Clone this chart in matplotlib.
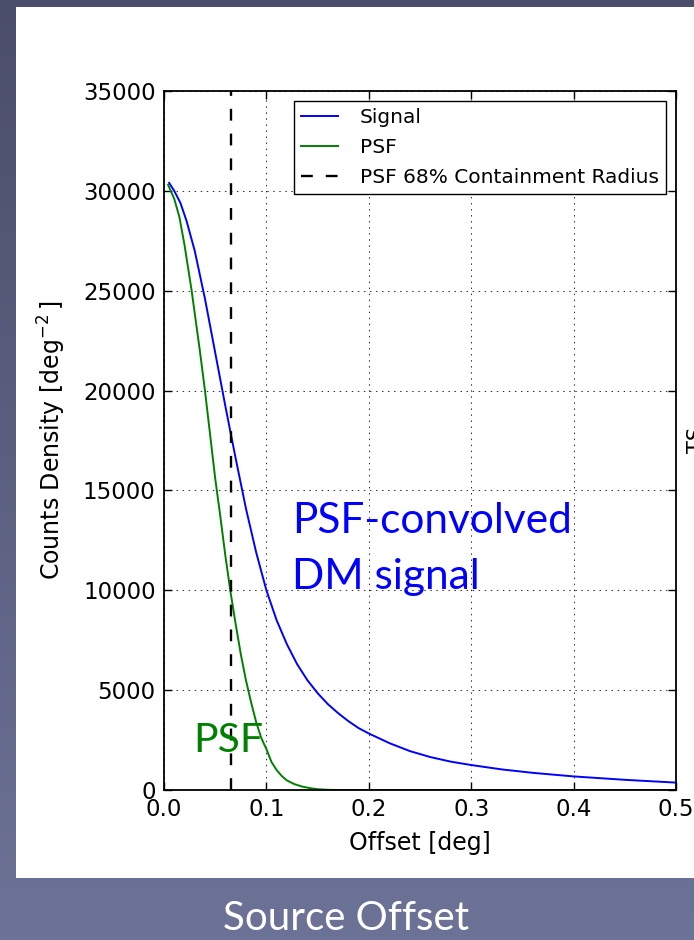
import numpy as np
import matplotlib
matplotlib.use('Agg')
import matplotlib.pyplot as plt
from matplotlib.patches import Rectangle
from matplotlib.colors import LinearSegmentedColormap

# ---------------- data ----------------
signal_offset = [0.005, 0.010, 0.016, 0.022, 0.030, 0.040, 0.050, 0.060, 0.070, 0.080,
                 0.090, 0.100, 0.110, 0.120, 0.130, 0.140, 0.150, 0.160, 0.170, 0.180,
                 0.190, 0.200, 0.220, 0.240, 0.260, 0.280, 0.300, 0.330, 0.360, 0.400,
                 0.450, 0.500]
signal_counts = [30400, 30000, 29400, 28500, 27000, 24600, 21900, 19200, 16600, 14100,
                 11900, 10000, 8500, 7300, 6300, 5500, 4850, 4300, 3850, 3450,
                 3100, 2830, 2350, 1950, 1650, 1420, 1250, 1030, 860, 680,
                 510, 370]

psf_offset = [0.004, 0.010, 0.015, 0.020, 0.027, 0.035, 0.040, 0.045, 0.050, 0.055,
              0.060, 0.065, 0.070, 0.075, 0.080, 0.085, 0.090, 0.095, 0.100, 0.105,
              0.110, 0.115, 0.120, 0.127, 0.135, 0.143, 0.150, 0.160, 0.170, 0.500]
psf_counts = [30300, 29600, 28700, 27300, 25000, 22000, 20000, 17800, 15600, 13700,
              11700, 9900, 8300, 6800, 5500, 4400, 3400, 2600, 2050, 1400,
              1000, 700, 480, 300, 170, 90, 40, 10, 0, 0]

containment_radius = 0.065

x_ticks = [0.0, 0.1, 0.2, 0.3, 0.4, 0.5]
x_tick_labels = ['0.0', '0.1', '0.2', '0.3', '0.4', '0.5']
y_ticks = [0, 5000, 10000, 15000, 20000, 25000, 30000, 35000]
y_tick_labels = ['0', '5000', '10000', '15000', '20000', '25000', '30000', '35000']

legend_labels = ['Signal', 'PSF', 'PSF 68% Containment Radius']

# ---------------- figure ----------------
W, H = 694, 940
fig = plt.figure(figsize=(W / 100, H / 100), dpi=100)

# slide background gradient
bg = fig.add_axes([0, 0, 1, 1], zorder=-10)
grad = np.linspace(0, 1, 256).reshape(-1, 1)
cmap = LinearSegmentedColormap.from_list('bg', ['#4a4e6b', '#6d7397'])
bg.imshow(grad, aspect='auto', cmap=cmap, extent=[0, 1, 0, 1], origin='upper')
bg.set_xlim(0, 1)
bg.set_ylim(0, 1)
bg.set_axis_off()
# white panel
bg.add_patch(Rectangle((16 / W, 1 - 878 / H), 1.0, (878 - 7) / H,
                       facecolor='white', edgecolor='none', transform=bg.transAxes))

fig.text(346 / W, 1 - 918 / H, 'Source Offset', color='white', fontsize=29,
         family='Lato', ha='center', va='center')
fig.text(687 / W, 1 - 440 / H, 'TS', color='black', fontsize=15, rotation=90,
         ha='left', va='center')

# main axes
ax = fig.add_axes([164 / W, 1 - 790 / H, 512 / W, 699 / H])
ax.plot(signal_offset, signal_counts, color=(0, 0, 1), lw=1.4, label=legend_labels[0])
ax.plot(psf_offset, psf_counts, color=(0, 0.5, 0), lw=1.4, label=legend_labels[1])
ax.axvline(containment_radius, color='k', lw=1.7, linestyle=(0, (5.0, 5.5)),
           label=legend_labels[2])

ax.set_xlim(0, 0.5)
ax.set_ylim(0, 35000)
ax.set_xticks(x_ticks)
ax.set_xticklabels(x_tick_labels)
ax.set_yticks(y_ticks)
ax.set_yticklabels(y_tick_labels)
ax.grid(True, color='#333333', linestyle=(0, (1.4, 4.4)), linewidth=0.75)
ax.tick_params(direction='in', top=True, right=True, length=6, width=1,
               labelsize=16.5, pad=6, colors='black')
for s in ax.spines.values():
    s.set_linewidth(1.3)
    s.set_zorder(5)

ax.set_xlabel('Offset [deg]', fontsize=17, labelpad=7)
ax.set_ylabel(r'Counts Density [deg$^{-2}\,$]', fontsize=17, labelpad=11)

leg = ax.legend(loc='upper right', fontsize=14.5, fancybox=False, shadow=False,
                framealpha=1, edgecolor='black', borderpad=0.35, labelspacing=0.55,
                handlelength=1.8, handletextpad=1.1, borderaxespad=0.5)
leg.get_frame().set_linewidth(1.0)

# slide annotations
ax.text(0.125, 12868, 'PSF-convolved', color=(0, 0, 1), fontsize=30.5, family='Lato',
        ha='left', va='baseline')
ax.text(0.125, 10064, 'DM signal', color=(0, 0, 1), fontsize=30.5, family='Lato',
        ha='left', va='baseline')
ax.text(0.0283, 1900, 'PSF', color=(0, 0.5, 0), fontsize=29.5, family='Lato',
        ha='left', va='baseline')

fig.savefig('out.png', dpi=100)
